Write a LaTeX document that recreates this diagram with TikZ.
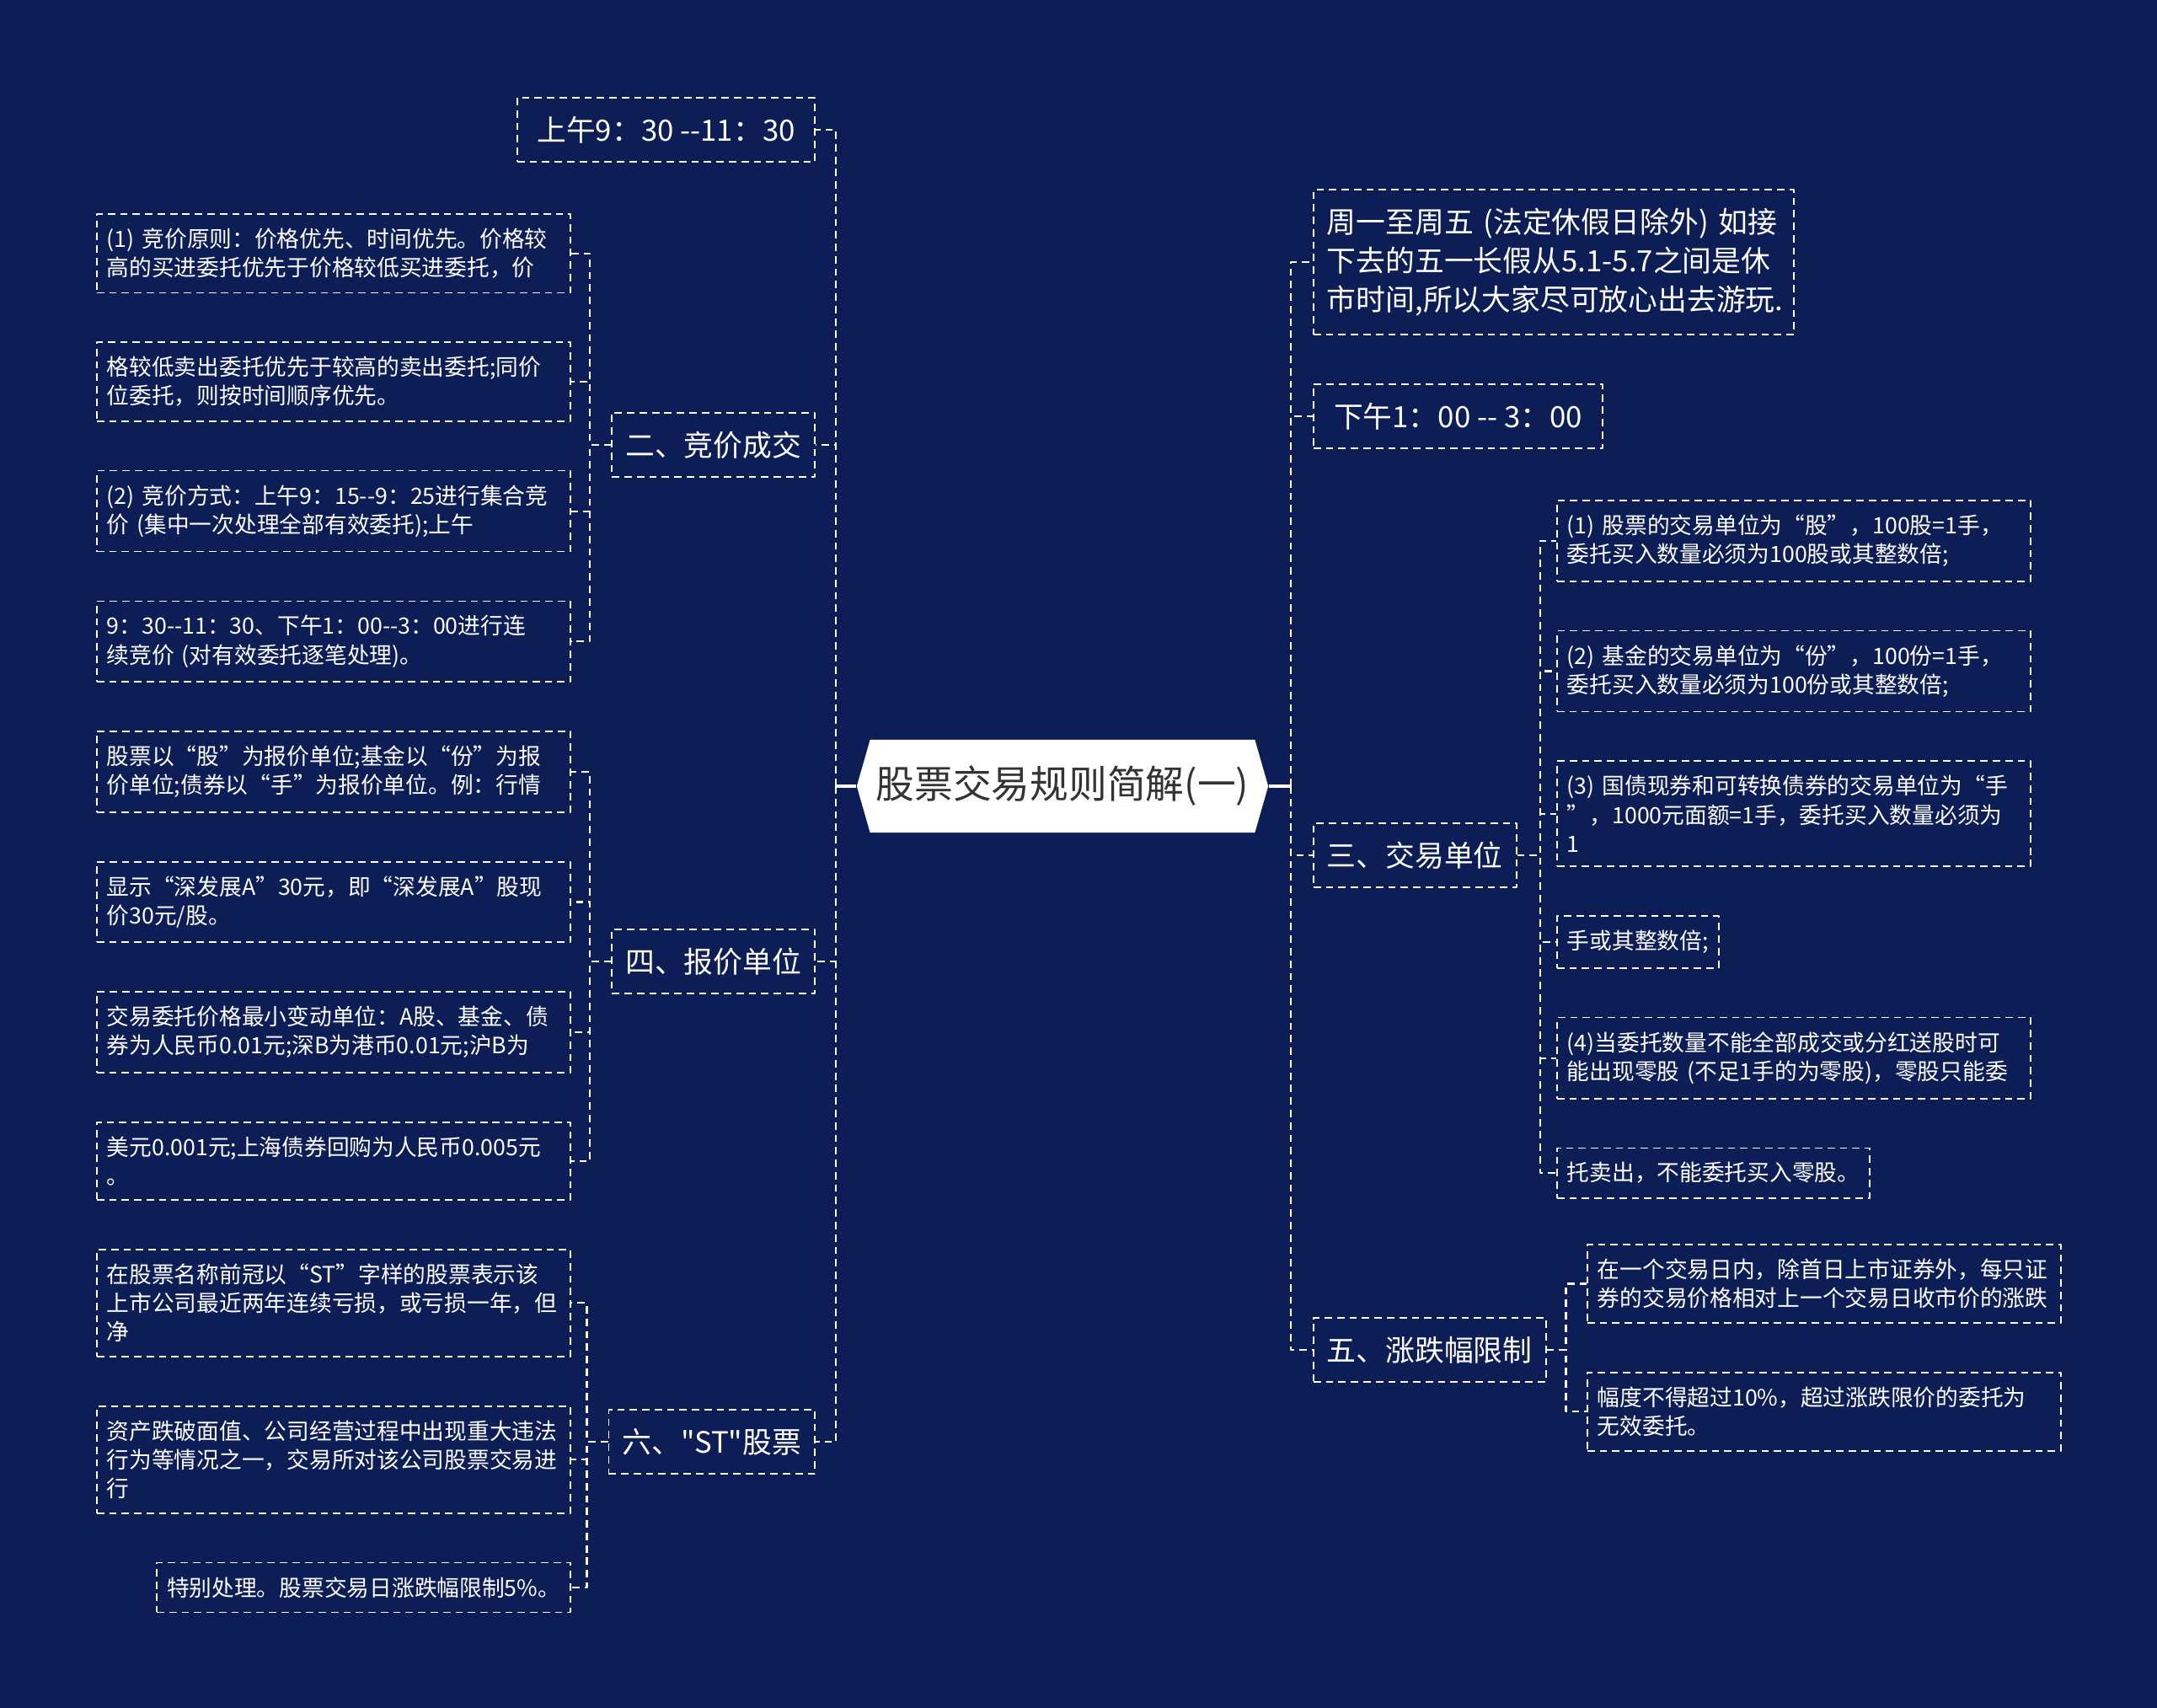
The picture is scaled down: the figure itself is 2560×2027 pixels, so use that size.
\documentclass[tikz,border=0pt]{standalone}
\usepackage{fontspec}
\newfontfamily\cjkfont{Noto Sans CJK SC}
\usetikzlibrary{positioning,shapes.symbols}

\definecolor{navy}{RGB}{13,29,86}
\definecolor{inkgray}{RGB}{51,51,51}

\newcommand{\leaffont}{\cjkfont\fontsize{7.6}{9.7}\selectfont}
\newcommand{\topicfont}{\cjkfont\fontsize{9.9}{13}\selectfont}
\newcommand{\rootfont}{\cjkfont\fontsize{13}{16}\selectfont}

\begin{document}
\begin{tikzpicture}[
    x=0.01cm, y=-0.01cm,
    line join=round,
    node distance=0.57cm,
    root/.style={
        shape=signal,
        signal to=west and east,
        signal pointer angle=148,
        fill=white,
        text=inkgray,
        font=\rootfont,
        minimum width=4.88cm,
        minimum height=1.1cm,
        inner sep=0pt
    },
    topic/.style={
        draw=white,
        dash pattern=on 2.5pt off 1.7pt,
        line width=0.5pt,
        text=white,
        font=\topicfont,
        align=left,
        inner xsep=0.16cm,
        inner ysep=0.22cm
    },
    leaf/.style={
        draw=white,
        dash pattern=on 2.5pt off 1.7pt,
        line width=0.5pt,
        text=white,
        font=\leaffont,
        align=left,
        inner xsep=0.12cm,
        inner ysep=0.17cm
    },
    wide/.style={text width=5.38cm},
    link/.style={draw=white, dash pattern=on 2.5pt off 1.7pt, line width=0.6pt},
    stem/.style={draw=white, line width=1.1pt}
]

\path[use as bounding box, fill=navy] (0,0) rectangle (2560,2027);

% =========================
% Root
% =========================
\node[root] (main) at (1261,933) {股票交易规则简解(一)};

% =========================
% Left topics
% =========================
\node[topic, anchor=east, minimum width=3.53cm] (morning) at (968,154) {上午9：30 --11：30};
\node[topic, anchor=east] (auction) at (968,528) {二、竞价成交};
\node[topic, anchor=east] (quote) at (968,1141) {四、报价单位};
\node[topic, anchor=east] (st) at (968,1711) {六、"ST"股票};

% =========================
% Left leaves
% =========================
\node[leaf, wide, anchor=north east] (auction1) at (678,253) {(1) 竞价原则：价格优先、时间优先。价格较\\高的买进委托优先于价格较低买进委托，价};
\node[leaf, wide, below=of auction1.south east, anchor=north east] (auction2) {格较低卖出委托优先于较高的卖出委托;同价\\位委托，则按时间顺序优先。};
\node[leaf, wide, below=of auction2.south east, anchor=north east] (auction3) {(2) 竞价方式：上午9：15--9：25进行集合竞\\价 (集中一次处理全部有效委托);上午};
\node[leaf, wide, below=of auction3.south east, anchor=north east] (auction4) {9：30--11：30、下午1：00--3：00进行连\\续竞价 (对有效委托逐笔处理)。};

\node[leaf, wide, below=of auction4.south east, anchor=north east] (quote1) {股票以“股”为报价单位;基金以“份”为报\\价单位;债券以“手”为报价单位。例：行情};
\node[leaf, wide, below=of quote1.south east, anchor=north east] (quote2) {显示“深发展A”30元，即“深发展A”股现\\价30元/股。};
\node[leaf, wide, below=of quote2.south east, anchor=north east] (quote3) {交易委托价格最小变动单位：A股、基金、债\\券为人民币0.01元;深B为港币0.01元;沪B为};
\node[leaf, wide, below=of quote3.south east, anchor=north east] (quote4) {美元0.001元;上海债券回购为人民币0.005元\\。};

\node[leaf, wide, below=of quote4.south east, anchor=north east] (st1) {在股票名称前冠以“ST”字样的股票表示该\\上市公司最近两年连续亏损，或亏损一年，但\\净};
\node[leaf, wide, below=of st1.south east, anchor=north east] (st2) {资产跌破面值、公司经营过程中出现重大违法\\行为等情况之一，交易所对该公司股票交易进\\行};
\node[leaf, below=of st2.south east, anchor=north east] (st3) {特别处理。股票交易日涨跌幅限制5\%。};

% =========================
% Right topics
% =========================
\node[topic, wide, anchor=west] (week) at (1558,311) {周一至周五 (法定休假日除外) 如接\\下去的五一长假从5.1-5.7之间是休\\市时间,所以大家尽可放心出去游玩.};
\node[topic, anchor=west, minimum width=3.43cm] (afternoon) at (1558,494) {下午1：00 -- 3：00};
\node[topic, anchor=west] (unit) at (1558,1015) {三、交易单位};
\node[topic, anchor=west] (limit) at (1558,1602) {五、涨跌幅限制};

% =========================
% Right leaves
% =========================
\node[leaf, wide, anchor=north west] (unit1) at (1847,593) {(1) 股票的交易单位为“股”，100股=1手，\\委托买入数量必须为100股或其整数倍;};
\node[leaf, wide, below=of unit1.south west, anchor=north west] (unit2) {(2) 基金的交易单位为“份”，100份=1手，\\委托买入数量必须为100份或其整数倍;};
\node[leaf, wide, below=of unit2.south west, anchor=north west] (unit3) {(3) 国债现券和可转换债券的交易单位为“手\\”，1000元面额=1手，委托买入数量必须为\\1};
\node[leaf, below=of unit3.south west, anchor=north west] (unit4) {手或其整数倍;};
\node[leaf, wide, below=of unit4.south west, anchor=north west] (unit5) {(4)当委托数量不能全部成交或分红送股时可\\能出现零股 (不足1手的为零股)，零股只能委};
\node[leaf, below=of unit5.south west, anchor=north west] (unit6) {托卖出，不能委托买入零股。};

\node[leaf, wide, anchor=north west] (limit1) at (1883,1476) {在一个交易日内，除首日上市证券外，每只证\\券的交易价格相对上一个交易日收市价的涨跌};
\node[leaf, wide, below=of limit1.south west, anchor=north west] (limit2) {幅度不得超过10\%，超过涨跌限价的委托为\\无效委托。};

% =========================
% Connectors
% =========================
\draw[stem] (main.west) -- ++(-24,0) coordinate (lj);
\draw[stem] (main.east) -- ++(26,0) coordinate (rj);

\foreach \t in {morning,auction,quote,st}
    \draw[link] (lj) |- (\t.east);
\foreach \t in {week,afternoon,unit,limit}
    \draw[link] (rj) |- (\t.west);

\foreach \c in {auction1,auction2,auction3,auction4}
    \draw[link] (auction.west) -- ++(-25,0) |- (\c.east);
\foreach \c in {quote1,quote2,quote3,quote4}
    \draw[link] (quote.west) -- ++(-25,0) |- (\c.east);
\foreach \c in {st1,st2,st3}
    \draw[link] (st.west) -- ++(-25,0) |- (\c.east);

\foreach \c in {unit1,unit2,unit3,unit4,unit5,unit6}
    \draw[link] (unit.east) -- ++(27,0) |- (\c.west);
\foreach \c in {limit1,limit2}
    \draw[link] (limit.east) -- ++(23,0) |- (\c.west);

\end{tikzpicture}
\end{document}
